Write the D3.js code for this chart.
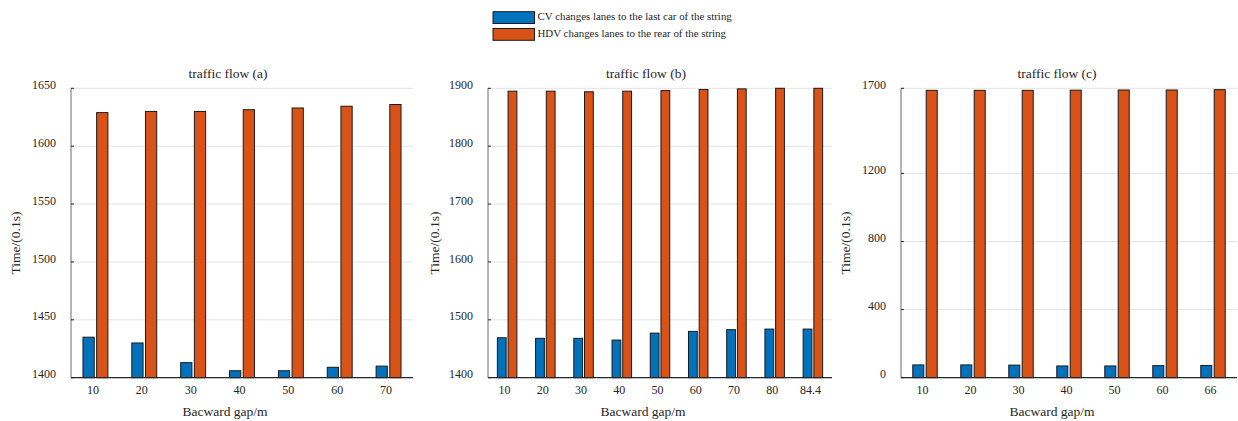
<!DOCTYPE html>
<html>
<head>
<meta charset="utf-8">
<script src="https://cdn.jsdelivr.net/npm/d3@7"></script>
<style>
  html, body { margin: 0; padding: 0; background: #fff; }
  svg { display: block; }
  text { font-family: "Liberation Serif", "Times New Roman", serif; fill: #262626; }
</style>
</head>
<body>
<svg id="chart" width="1238" height="421"></svg>
<script>
// ---------- data ----------
const seriesNames = ["CV changes lanes to the last car of the string", "HDV changes lanes to the rear of the string"];
const seriesColors = ["#0072BD", "#D95319"];

const catsA = ["10", "20", "30", "40", "50", "60", "70"];
const cvA   = [1435, 1430, 1413, 1406, 1406, 1409, 1410];
const hdvA  = [1629, 1630, 1630, 1631.5, 1633, 1634.5, 1636];
const ticksA = [1400, 1450, 1500, 1550, 1600, 1650];

const catsB = ["10", "20", "30", "40", "50", "60", "70", "80", "84.4"];
const cvB   = [1469, 1468, 1468, 1465, 1477, 1480, 1483, 1484, 1484];
const hdvB  = [1895, 1895, 1894, 1895, 1896, 1898, 1899, 1900, 1900];
const ticksB = [1400, 1500, 1600, 1700, 1800, 1900];

const catsC = ["10", "20", "30", "40", "50", "60", "66"];
const cvC   = [75, 75, 74, 69, 69, 71, 72];
const hdvC  = [1688, 1688, 1688, 1689, 1690, 1690, 1692];
const ticksC = [0, 400, 800, 1200, 1700];

const titles = ["traffic flow (a)", "traffic flow (b)", "traffic flow (c)"];
const xLabel = "Bacward gap/m";
const yLabel = "Time/(0.1s)";

// ---------- layout ----------
const panels = [
  { cats: catsA, cv: cvA, hdv: hdvA, ticks: ticksA, x0: 71,  x1: 413,  title: titles[0], titleX: 228,  yLabX: 20 },
  { cats: catsB, cv: cvB, hdv: hdvB, ticks: ticksB, x0: 488, x1: 832,  title: titles[1], titleX: 646,  yLabX: 439 },
  { cats: catsC, cv: cvC, hdv: hdvC, ticks: ticksC, x0: 901, x1: 1237, title: titles[2], titleX: 1057, yLabX: 850 }
];
const yTop = 88.3, yBot = 377.7;

const svg = d3.select("#chart");

panels.forEach(p => {
  const n = p.cats.length;
  const g = svg.append("g");
  const x = d3.scaleLinear().domain([0.5, n + 0.5]).range([p.x0, p.x1]);
  const y = d3.scaleLinear().domain([d3.min(p.ticks), d3.max(p.ticks)]).range([yBot, yTop]);
  const unit = x(1) - x(0);

  // grid
  g.selectAll("line.grid").data(p.ticks.filter(t => t !== d3.min(p.ticks)))
    .enter().append("line")
    .attr("x1", p.x0).attr("x2", p.x1)
    .attr("y1", d => y(d)).attr("y2", d => y(d))
    .attr("stroke", "#e3e3e3").attr("stroke-width", 1);

  // bars
  const sub = d3.scaleLinear().domain([0, 1]).range([-0.255, 0.025]);
  const bw = 0.23 * unit;
  [p.cv, p.hdv].forEach((vals, si) => {
    g.selectAll("rect.s" + si).data(vals).enter().append("rect")
      .attr("x", (d, i) => x(i + 1 + sub(si)))
      .attr("width", bw)
      .attr("y", d => y(d))
      .attr("height", d => y.range()[0] - y(d))
      .attr("fill", seriesColors[si])
      .attr("stroke", "#1a1a1a").attr("stroke-width", 1);
  });

  // left axis
  g.append("line").attr("x1", p.x0).attr("x2", p.x0).attr("y1", yTop).attr("y2", yBot)
    .attr("stroke", "#6a6a6a").attr("stroke-width", 1);
  g.selectAll("line.ytick").data(p.ticks).enter().append("line")
    .attr("x1", p.x0).attr("x2", p.x0 + 3)
    .attr("y1", d => y(d)).attr("y2", d => y(d))
    .attr("stroke", "#262626");
  g.selectAll("text.ytl").data(p.ticks).enter().append("text")
    .attr("x", p.x0 - 15).attr("y", d => y(d))
    .attr("dy", "0.05em")
    .attr("text-anchor", "end")
    .attr("font-size", 12)
    .text(d => d);

  // bottom axis
  g.append("line").attr("x1", p.x0).attr("x2", p.x1).attr("y1", yBot).attr("y2", yBot)
    .attr("stroke", "#262626").attr("stroke-width", 1.2);
  g.selectAll("text.xtl").data(p.cats).enter().append("text")
    .attr("x", (d, i) => x(i + 1)).attr("dx", -2.5)
    .attr("y", 393.5)
    .attr("text-anchor", "middle")
    .attr("font-size", 12)
    .text(d => d);

  // titles and labels
  g.append("text").attr("x", p.titleX).attr("y", 77.5).attr("text-anchor", "middle")
    .attr("font-size", 13.5).text(p.title);
  g.append("text").attr("x", (p.x0 + p.x1) / 2 - 17).attr("y", 416).attr("text-anchor", "middle")
    .attr("font-size", 13.5).text(xLabel);
  g.append("text").attr("transform", `translate(${p.yLabX},243) rotate(-90)`)
    .attr("text-anchor", "middle").attr("font-size", 13.5).text(yLabel);
});

// ---------- legend ----------
const leg = svg.append("g");
const legRows = d3.scaleLinear().domain([0, 1]).range([11.7, 28.5]);
seriesNames.forEach((name, i) => {
  leg.append("rect").attr("x", 493).attr("y", legRows(i)).attr("width", 41.5).attr("height", 11.8)
    .attr("fill", seriesColors[i]).attr("stroke", "#1a1a1a").attr("stroke-width", 1);
  leg.append("text").attr("x", 537.5).attr("y", legRows(i) + 8.7)
    .attr("font-size", 10.9).text(name);
});
</script>
</body>
</html>
